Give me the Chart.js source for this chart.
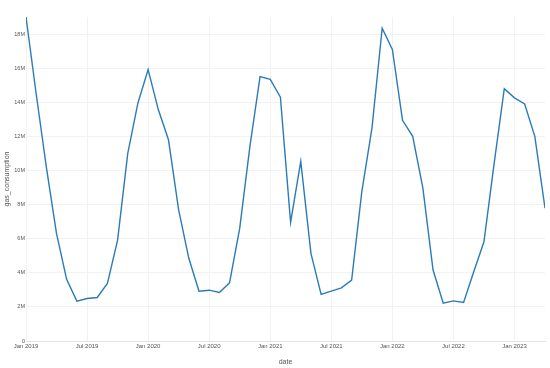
<!DOCTYPE html>
<html>
<head>
<meta charset="utf-8">
<script src="https://cdn.jsdelivr.net/npm/chart.js@4.4.1/dist/chart.umd.min.js"></script>
<style>
    html, body { margin: 0; padding: 0; background: #fff; }
    #chart { display: block; }
</style>
</head>
<body>
<canvas id="chart" width="550" height="368"></canvas>
<script>
// monthly gas consumption, Jan 2019 - Apr 2023
const months = [
    '2019-01', '2019-02', '2019-03', '2019-04', '2019-05', '2019-06',
    '2019-07', '2019-08', '2019-09', '2019-10', '2019-11', '2019-12',
    '2020-01', '2020-02', '2020-03', '2020-04', '2020-05', '2020-06',
    '2020-07', '2020-08', '2020-09', '2020-10', '2020-11', '2020-12',
    '2021-01', '2021-02', '2021-03', '2021-04', '2021-05', '2021-06',
    '2021-07', '2021-08', '2021-09', '2021-10', '2021-11', '2021-12',
    '2022-01', '2022-02', '2022-03', '2022-04', '2022-05', '2022-06',
    '2022-07', '2022-08', '2022-09', '2022-10', '2022-11', '2022-12',
    '2023-01', '2023-02', '2023-03', '2023-04'
];

const gasConsumption = [
    19.0e6, 14.5e6, 10.2e6, 6.3e6, 3.6e6, 2.34e6, 2.49e6, 2.55e6, 3.38e6, 5.92e6, 11.0e6, 13.96e6,
    15.92e6, 13.57e6, 11.8e6, 7.69e6, 4.85e6, 2.92e6, 2.98e6, 2.85e6, 3.41e6, 6.6e6, 11.4e6, 15.5e6,
    15.34e6, 14.3e6, 6.96e6, 10.53e6, 5.14e6, 2.73e6, 2.92e6, 3.12e6, 3.57e6, 8.76e6, 12.5e6, 18.34e6,
    17.1e6, 12.94e6, 12.0e6, 8.96e6, 4.16e6, 2.22e6, 2.35e6, 2.26e6, 4.06e6, 5.82e6, 10.4e6, 14.8e6,
    14.26e6, 13.9e6, 12.0e6, 7.79e6
];

const monthNames = ['Jan', 'Feb', 'Mar', 'Apr', 'May', 'Jun', 'Jul', 'Aug', 'Sep', 'Oct', 'Nov', 'Dec'];
const yTicks = [0, 2e6, 4e6, 6e6, 8e6, 10e6, 12e6, 14e6, 16e6, 18e6];
const xStep = 6;

function monthLabel(i) {
    const parts = months[i].split('-');
    return monthNames[parseInt(parts[1]) - 1] + ' ' + parts[0];
}

const points = gasConsumption.map((v, i) => ({ x: i, y: v }));
const gridColor = '#f2f2f2';
const textColor = '#555';

new Chart(document.getElementById('chart'), {
    type: 'line',
    data: {
        datasets: [{
            label: 'gas_consumption',
            data: points,
            borderColor: '#2b7bb9',
            borderWidth: 1.4,
            pointRadius: 0,
            tension: 0,
            fill: false
        }]
    },
    options: {
        responsive: false,
        animation: false,
        devicePixelRatio: 1,
        layout: { padding: { top: 17, right: 5, left: 0, bottom: 0 } },
        plugins: {
            legend: { display: false },
            tooltip: { enabled: false }
        },
        scales: {
            x: {
                type: 'linear',
                min: 0,
                max: months.length - 1,
                afterFit: scale => { scale.height = 27; },
                afterBuildTicks: scale => {
                    scale.ticks = [];
                    for (let i = 0; i < months.length; i += xStep) scale.ticks.push({ value: i });
                },
                grid: { color: gridColor, drawTicks: false },
                border: { display: true, color: '#e2e2e2' },
                ticks: {
                    padding: 2,
                    maxRotation: 0,
                    autoSkip: false,
                    color: textColor,
                    font: { family: 'Liberation Sans', size: 6 },
                    callback: value => monthLabel(value)
                },
                title: {
                    display: true,
                    text: 'date',
                    color: textColor,
                    font: { family: 'Liberation Sans', size: 7 },
                    padding: { top: 0, bottom: 2 }
                }
            },
            y: {
                min: 0,
                max: Math.max(...gasConsumption),
                afterFit: scale => { scale.width = 26; },
                afterBuildTicks: scale => {
                    scale.ticks = yTicks.map(v => ({ value: v }));
                },
                grid: { color: gridColor, drawTicks: false },
                border: { display: false },
                ticks: {
                    padding: 1,
                    autoSkip: false,
                    color: textColor,
                    font: { family: 'Liberation Sans', size: 5.5 },
                    callback: v => v === 0 ? '0' : (v / 1e6) + 'M'
                },
                title: {
                    display: true,
                    text: 'gas_consumption',
                    color: textColor,
                    font: { family: 'Liberation Sans', size: 7 },
                    padding: { top: 3, bottom: 0 }
                }
            }
        }
    }
});
</script>
</body>
</html>
